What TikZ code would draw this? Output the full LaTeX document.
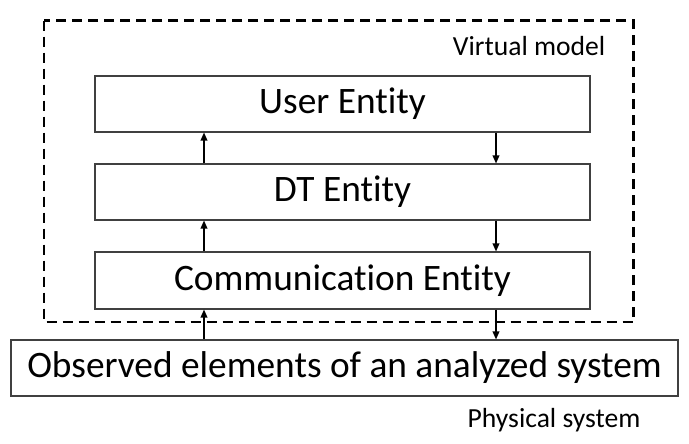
\documentclass[tikz,border=0pt]{standalone}
\usepackage{fontspec}
\setmainfont{Carlito}[Ligatures={NoCommon}]
\usetikzlibrary{arrows.meta}
\begin{document}
\begin{tikzpicture}[x=0.75pt,y=-0.75pt,
  entbox/.style={draw=black!75,line width=0.8pt,fill=white,inner sep=0pt,font=\fontsize{28}{32}\selectfont},
  lbl/.style={font=\fontsize{20.7}{24}\selectfont,anchor=east},
  flow/.style={-{Triangle[length=6pt,width=5pt]},line width=1pt,black},
  dashbox/.style={draw=black,line width=1.9pt,dash pattern=on 7.5pt off 4.5pt}]
\useasboundingbox (0,0) rectangle (689,443);
\draw[dashbox] (44,20.5) rectangle (633.5,322);
\node[entbox,minimum width=495*0.75pt,minimum height=56*0.75pt] (user) at (342.5,104) {User Entity};
\node[entbox,minimum width=495*0.75pt,minimum height=56*0.75pt] (dt) at (342.5,192) {DT Entity};
\node[entbox,minimum width=495*0.75pt,minimum height=57*0.75pt] (comm) at (342.5,280.5) {Communication Entity};
\node[entbox,minimum width=667*0.75pt,minimum height=56*0.75pt] (obs) at (344.5,368) {Observed elements of an analyzed system};
\node[lbl] (vm) at (610,46) {Virtual model};
\node[lbl] (ps) at (645,420) {Physical system};
\draw[flow] (dt.north -| 204,0) -- (user.south -| 204,0);
\draw[flow] (user.south -| 496,0) -- (dt.north -| 496,0);
\draw[flow] (comm.north -| 204,0) -- (dt.south -| 204,0);
\draw[flow] (dt.south -| 496,0) -- (comm.north -| 496,0);
\draw[flow] (obs.north -| 204,0) -- (comm.south -| 204,0);
\draw[flow] (comm.south -| 496,0) -- (obs.north -| 496,0);
\end{tikzpicture}
\end{document}
